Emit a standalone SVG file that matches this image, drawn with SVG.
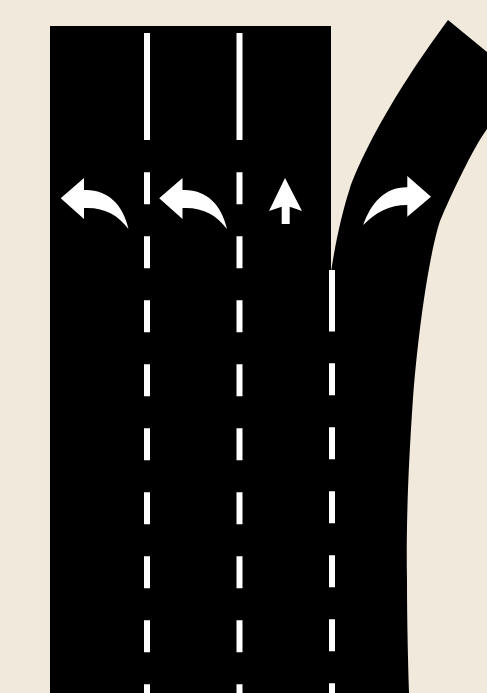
<svg xmlns="http://www.w3.org/2000/svg" width="487" height="693" viewBox="0 0 487 693">
<defs>
<style>
.road{fill:#000}
.mark{fill:#fff}
.lane{stroke:#fff;stroke-width:6;fill:none}
.dash{stroke-dasharray:32 32}
</style>
<path id="left-turn" d="M60.7 198.3L84 178V190C107 189 123 204 128.5 229C118 215 104 207 84 208V219Z"/>
</defs>
<rect id="background" width="487" height="693" fill="#f2e9dd"/>
<g id="roads">
<rect id="main-road" class="road" x="50" y="26" width="281" height="667"/>
<path id="turn-road" class="road" d="M331 272C335 245 342 212 350 188C358 165 385 105 448 20L487 52V129C473 148 451 195 440 221C432 245 420 310 413 398C408 470 406 530 407 580C407 620 408 660 409 693H331Z"/>
</g>
<g id="lane-lines">
<path class="lane" d="M147 33V140"/>
<path class="lane" d="M239.5 33V140"/>
<path class="lane dash" d="M147 172.3V693"/>
<path class="lane dash" d="M239.5 172.3V693"/>
<path class="lane" d="M332 270V331.5"/>
<path class="lane dash" d="M332 363.3V693"/>
</g>
<g id="arrows">
<use id="arrow-left-1" class="mark" href="#left-turn"/>
<use id="arrow-left-2" class="mark" href="#left-turn" x="98.5"/>
<path id="arrow-straight" class="mark" d="M285 178L302 211L289.7 206.7V224H281.7V206.7L269 211Z"/>
<path id="arrow-right" class="mark" d="M431 196.7L407.3 176V187.3C385 187 371 203 363.3 225C376 212 389 205 407.3 205V216.7Z"/>
</g>
</svg>
